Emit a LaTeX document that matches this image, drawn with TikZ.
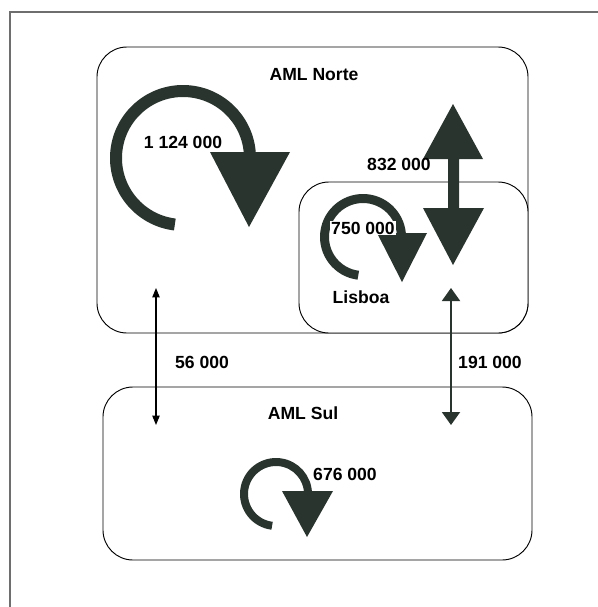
\documentclass[tikz,border=0pt]{standalone}
\usepackage{fontspec}
\setmainfont{Liberation Sans}
\usepackage{tikz}
\usetikzlibrary{positioning,shapes,arrows.meta}
\definecolor{flowdark}{RGB}{42,52,46}
\definecolor{framegray}{RGB}{110,110,110}

\begin{document}
\begin{tikzpicture}[x=0.03cm, y=-0.03cm,
  every node/.style={font=\fontsize{15}{17}\selectfont\bfseries, inner sep=1pt},
  region/.style={draw, rounded corners=0.9cm, line width=0.8pt},
  loopband/.style={draw=flowdark, line width=#1},
  flowhead/.style={fill=flowdark},
  thinflow/.style={line width=0.9pt, >={Triangle[length=2.8mm,width=2.2mm]}, <->},
  thickflow/.style={draw=flowdark, line width=1.7pt, >={Triangle[length=3.9mm,width=5.4mm]}, <->}]
\useasboundingbox (0,0) rectangle (598,607);
\draw[framegray, line width=1.5pt] (10,607) -- (10,12) -- (598,12);

% zones
\node[region, minimum width=12.93cm, minimum height=8.58cm] (norte) at (312.5,190) {};
\node[region, fill=white, minimum width=6.87cm, minimum height=4.53cm] (lisboa) at (413.5,257.5) {};
\node[region, minimum width=12.87cm, minimum height=5.19cm] (sul) at (317.5,473.5) {};

% internal loops
\draw[loopband=0.36cm] (183,158) ++(97:67) arc[start angle=97, end angle=360, radius=67];
\fill[flowhead] (210,152) -- (290,152) -- (249,227) -- cycle;
\draw[loopband=0.27cm] (363,237) ++(97:38.5) arc[start angle=97, end angle=360, radius=38.5];
\fill[flowhead] (377,233) -- (427,233) -- (402,282) -- cycle;
\draw[loopband=0.24cm] (276,494) ++(97:32) arc[start angle=97, end angle=360, radius=32];
\fill[flowhead] (282,491) -- (333,491) -- (307,537) -- cycle;

% Lisboa <-> rest of AML Norte
\fill[flowhead] (453,104) -- (483,159) -- (459,159) -- (459,208) -- (484,208) -- (453,265)
  -- (423,208) -- (448,208) -- (448,159) -- (423,159) -- cycle;

\node (nortelbl) at (314,75) {AML Norte};
\node (n1124) at (183,142) {1 124 000};
\node[fill=white] (l750) at (363,228) {750 000};
\node (lisboalbl) at (361,297) {Lisboa};
\node (n832) at (399,164) {832 000};
\node (sullbl) at (303,413) {AML Sul};
\node (s676) at (345,474) {676 000};
\node (n56) at (202,362) {56 000};
\node (n191) at (490,362) {191 000};

% cross flows
\coordinate (wtop) at (156,288);
\coordinate (wbot) at (156,425);
\coordinate (etop) at (451,288);
\coordinate (ebot) at (451,425);
\draw[thinflow] (wtop) -- (wbot);
\draw[thickflow] (etop) -- (ebot);
\end{tikzpicture}
\end{document}
